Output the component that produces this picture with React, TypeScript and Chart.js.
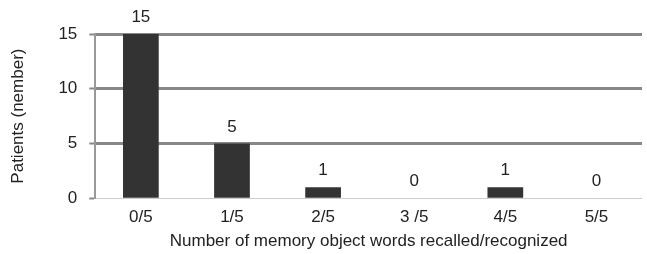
import React, { useEffect, useRef } from "react";
import { Chart, registerables } from "chart.js";

Chart.register(...registerables);

const categories = ["0/5", "1/5", "2/5", "3 /5", "4/5", "5/5"];
const patients = [15, 5, 1, 0, 1, 0];
const yTicks = [0, 5, 10, 15];

const FONT = "'Liberation Sans', Arial, sans-serif";

const valueLabels = {
  id: "valueLabels",
  afterDatasetsDraw(chart: any) {
    const { ctx } = chart;
    const meta = chart.getDatasetMeta(0);
    ctx.save();
    ctx.font = "17px " + FONT;
    ctx.fillStyle = "#222";
    ctx.textAlign = "center";
    ctx.textBaseline = "bottom";
    meta.data.forEach((bar: any, i: number) => {
      ctx.fillText(String(patients[i]), bar.x, bar.y - 8);
    });
    ctx.restore();
  },
};

export default function App() {
  const ref = useRef<HTMLCanvasElement>(null);
  useEffect(() => {
    if (!ref.current) return;
    const chart = new Chart(ref.current, {
      type: "bar",
      data: {
        labels: categories,
        datasets: [
          {
            data: patients,
            backgroundColor: "#333333",
            barPercentage: 0.8,
            categoryPercentage: 0.49,
          },
        ],
      },
      plugins: [valueLabels],
      options: {
        animation: false,
        responsive: false,
        maintainAspectRatio: false,
        layout: { padding: { top: 34, right: 5, left: 8, bottom: 2 } },
        plugins: { legend: { display: false }, tooltip: { enabled: false } },
        scales: {
          x: {
            grid: { display: false },
            border: { display: false },
            ticks: {
              color: "#222",
              font: { family: FONT, size: 17 },
              padding: 1,
            },
            title: {
              display: true,
              text: "Number of memory object words recalled/recognized",
              color: "#222",
              font: { family: FONT, size: 17 },
              padding: { top: 3, bottom: 0 },
            },
          },
          y: {
            min: 0,
            max: 15,
            afterBuildTicks: (axis: any) => {
              axis.ticks = yTicks.map((v) => ({ value: v }));
            },
            grid: {
              color: (c: any) => (c.tick && c.tick.value === 0 ? "#cccccc" : "#888888"),
              lineWidth: (c: any) => (c.tick && c.tick.value === 0 ? 1 : 3),
              tickColor: "#888888",
              tickWidth: 2,
              tickLength: 6,
            },
            border: { display: true, color: "#999999", width: 2 },
            ticks: {
              color: "#222",
              font: { family: FONT, size: 17 },
              padding: 12,
            },
            title: {
              display: true,
              text: "Patients (nember)",
              color: "#222",
              font: { family: FONT, size: 17 },
              padding: { top: 0, bottom: 18 },
            },
          },
        },
      },
    });
    return () => chart.destroy();
  }, []);
  return (
    <div style={{ position: "fixed", left: 0, top: 0, width: 647, height: 254 }}>
      <canvas ref={ref} width={647} height={254} />
    </div>
  );
}
